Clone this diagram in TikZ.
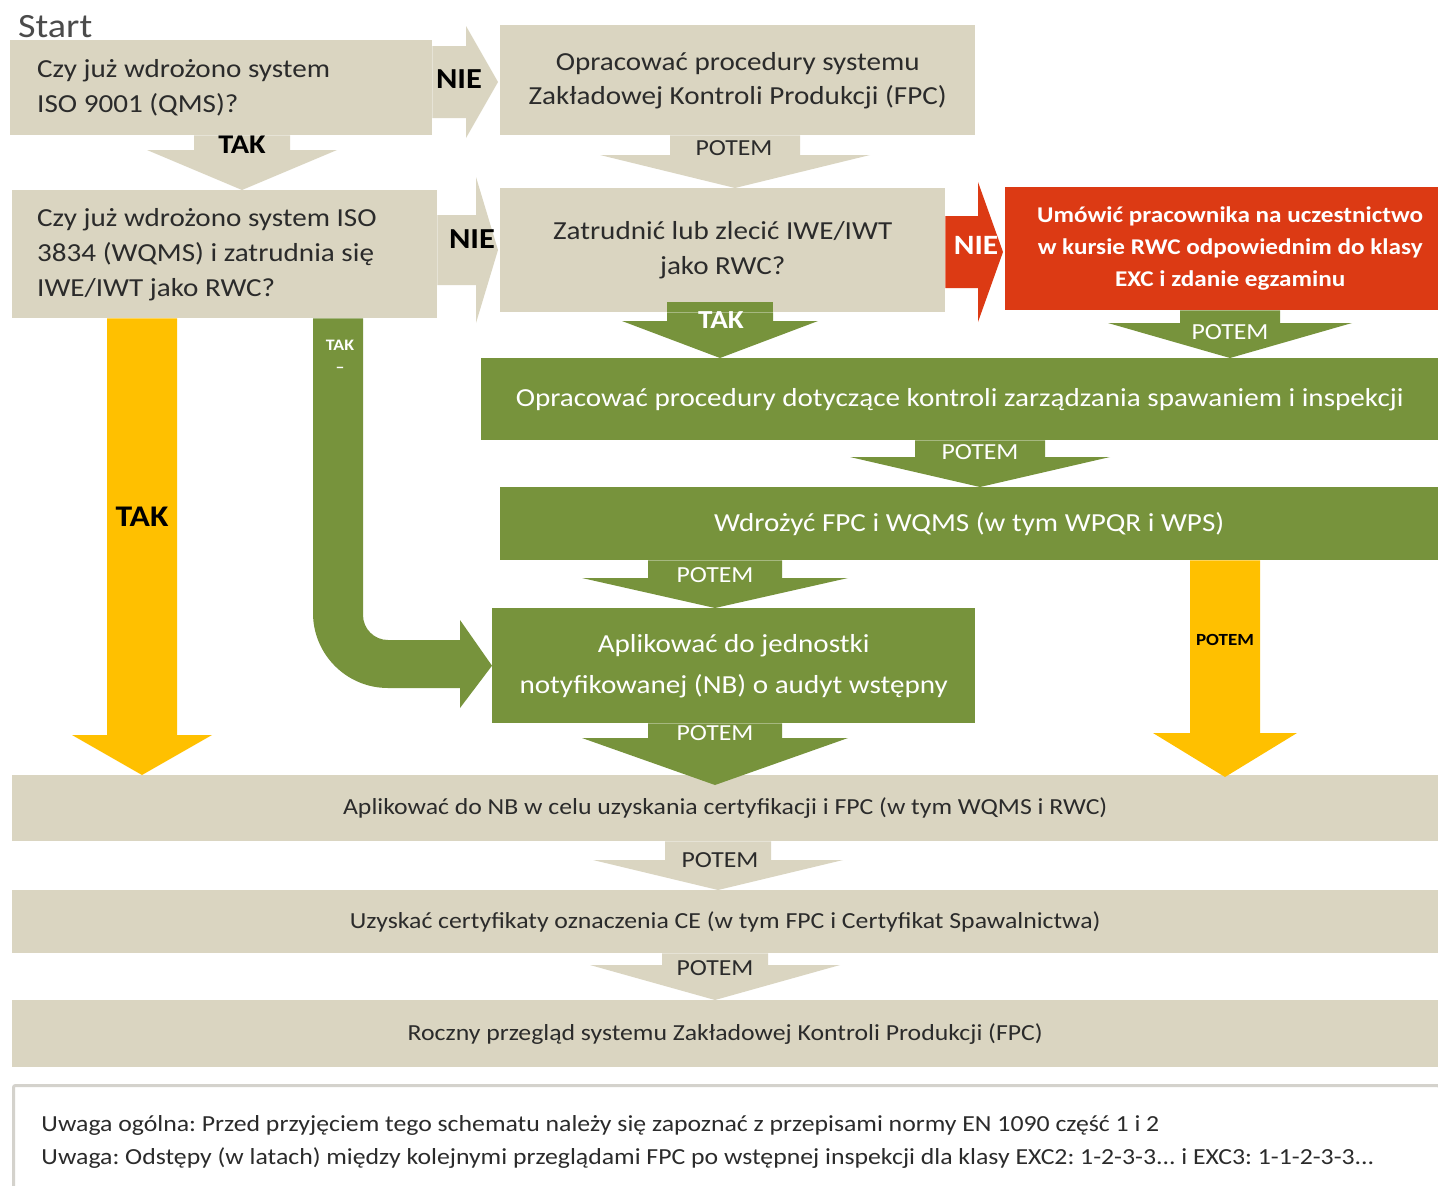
\documentclass[tikz,border=0pt]{standalone}
\usepackage{fontspec}
\setmainfont{Carlito}[FakeStretch=1.12]
\usetikzlibrary{calc}
\definecolor{beige}{HTML}{DAD5C1}
\definecolor{olive}{HTML}{77933C}
\definecolor{redc}{HTML}{DC3A14}
\definecolor{gold}{HTML}{FFC000}
\definecolor{txt}{HTML}{2B2B2B}
\definecolor{notegray}{HTML}{D4D2CC}
% down block arrow: color, from, to, xc, body half, head half, head length, tip offset
\newcommand\blkdown[8]{%
\fill[#1] (#4-#5,0 |- #2.south) -- (#4+#5,0 |- #2.south)
 -- ($(#4+#5,0 |- #3.north)+(0,#8-#7)$) -- ($(#4+#6,0 |- #3.north)+(0,#8-#7)$)
 -- ($(#4,0 |- #3.north)+(0,#8)$)
 -- ($(#4-#6,0 |- #3.north)+(0,#8-#7)$) -- ($(#4-#5,0 |- #3.north)+(0,#8-#7)$) -- cycle;}
% right block arrow: color, from, to, yc, body half, head half, head length, tip offset
\newcommand\blkright[8]{%
\fill[#1] (#2.east |- 0,#4-#5) -- ($(#3.west |- 0,#4-#5)+(#8-#7,0)$)
 -- ($(#3.west |- 0,#4-#6)+(#8-#7,0)$) -- ($(#3.west |- 0,#4)+(#8,0)$)
 -- ($(#3.west |- 0,#4+#6)+(#8-#7,0)$) -- ($(#3.west |- 0,#4+#5)+(#8-#7,0)$)
 -- (#2.east |- 0,#4+#5) -- cycle;}
\frenchspacing
\begin{document}
\begin{tikzpicture}[x=1pt,y=-1pt,
  box/.style={inner sep=0pt, anchor=north west, align=center, text=txt},
  f26/.style={font=\frenchspacing\fontsize{26}{35}\selectfont},
  f23/.style={font=\frenchspacing\fontsize{23}{30}\selectfont},
  lblk/.style={inner sep=0pt, text=black, font=\bfseries\fontsize{29}{29}\selectfont},
  lblw/.style={inner sep=0pt, text=white, font=\bfseries\fontsize{28}{28}\selectfont},
  potd/.style={inner sep=0pt, text=txt, font=\fontsize{23}{23}\selectfont},
  potw/.style={inner sep=0pt, text=white, font=\fontsize{23}{23}\selectfont}]
\useasboundingbox (0,0) rectangle (1438,1186);
\fill[white] (0,0) rectangle (1438,1186);

\node[inner sep=0pt, anchor=west, text=txt!85, font=\fontsize{34}{34}\selectfont] (start) at (18,27) {Start};

\node[box, fill=beige, minimum width=422, minimum height=95, text width=368, inner xsep=27pt, align=flush left, f26] (b1) at (10,40) {Czy już wdrożono system\\ISO 9001 (QMS)?};
\node[box, fill=beige, minimum width=475, minimum height=110, font=\fontsize{26}{34}\selectfont] (b2) at (500,25) {Opracować procedury systemu\\Zakładowej Kontroli Produkcji (FPC)};
\node[box, fill=beige, minimum width=425, minimum height=128, text width=375, inner xsep=25pt, align=flush left, f26] (b3) at (12,190) {Czy już wdrożono system ISO\\3834 (WQMS) i zatrudnia się\\IWE/IWT jako RWC?};
\node[box, fill=beige, minimum width=445, minimum height=124, f26] (b4) at (500,188) {Zatrudnić lub zlecić IWE/IWT\\jako RWC?};
\node[box, fill=redc, text=white, minimum width=450, minimum height=123, font=\bfseries\fontsize{22.5}{32}\selectfont] (red) at (1005,187) {Umówić pracownika na uczestnictwo\\w kursie RWC odpowiednim do klasy\\EXC i zdanie egzaminu};
\node[box, fill=olive, text=white, minimum width=957, minimum height=82, f26] (g1) at (481,358) {Opracować procedury dotyczące kontroli zarządzania spawaniem i inspekcji};
\node[box, fill=olive, text=white, minimum width=938, minimum height=73, f26] (g2) at (500,487) {Wdrożyć FPC i WQMS (w tym WPQR i WPS)};
\node[box, fill=olive, text=white, minimum width=483, minimum height=115, font=\fontsize{26}{41}\selectfont] (nb) at (492,608) {Aplikować do jednostki\\notyfikowanej (NB) o audyt wstępny};
\node[box, fill=beige, minimum width=1426, minimum height=66, f23] (ap) at (12,775) {Aplikować do NB w celu uzyskania certyfikacji i FPC (w tym WQMS i RWC)};
\node[box, fill=beige, minimum width=1426, minimum height=63, f23] (ce) at (12,890) {Uzyskać certyfikaty oznaczenia CE (w tym FPC i Certyfikat Spawalnictwa)};
\node[box, fill=beige, minimum width=1426, minimum height=67, f23] (fpc) at (12,1000) {Roczny przegląd systemu Zakładowej Kontroli Produkcji (FPC)};
\node[box, draw=notegray, line width=3pt, fill=white, rounded corners=2pt, minimum width=1426, minimum height=112, text width=1370, inner xsep=28pt, align=flush left, font=\frenchspacing\fontsize{23}{33}\selectfont] (note) at (12,1084) {Uwaga ogólna: Przed przyjęciem tego schematu należy się zapoznać z przepisami normy EN 1090 część 1 i 2\\Uwaga: Odstępy (w latach) między kolejnymi przeglądami FPC po wstępnej inspekcji dla klasy EXC2: 1-2-3-3... i EXC3: 1-1-2-3-3...};

% connectors
\blkright{beige}{b1}{b2}{82}{36}{56}{32}{-2}
\blkright{beige}{b3}{b4}{250}{35}{73}{22}{-2}
\blkright{redc}{b4}{red}{252}{36}{70}{25}{-2}
\blkdown{beige}{b1}{b3}{242}{48}{95}{40}{0}
\blkdown{beige}{b2}{b4}{735}{65}{135}{33}{0}
\fill[olive] ($(667,0 |- b4.south)+(0,-10)$) rectangle (773,0 |- b4.south);
\blkdown{olive}{b4}{g1}{720}{53}{98}{37}{0}
\blkdown{olive}{red}{g1}{1230}{50}{122}{35}{0}
\blkdown{olive}{g1}{g2}{980}{65}{130}{30}{0}
\blkdown{olive}{g2}{nb}{715}{67}{133}{30}{0}
\blkdown{olive}{nb}{ap}{715}{67}{133}{47}{10}
\blkdown{gold}{g2}{ap}{1225}{35}{72}{44}{2}
\blkdown{gold}{b3}{ap}{142}{35}{70}{40}{0}
\blkdown{beige}{ap}{ce}{718}{53}{125}{30}{0}
\blkdown{beige}{ce}{fpc}{715}{53}{125}{35}{0}
\fill[olive] (313,0 |- b3.south) -- (313,613) arc[start angle=180,end angle=90,radius=75]
  -- (460,688) -- (460,708) -- (nb.west) -- (460,620) -- (460,640) -- (388,640)
  arc[start angle=90,end angle=180,radius=25] -- (363,0 |- b3.south) -- cycle;

% labels
\node[lblk] (nie1) at (459,79) {NIE};
\node[lblk] (nie2) at (472,239) {NIE};
\node[lblk, font=\bfseries\fontsize{27}{27}\selectfont] (tak1) at (242,145) {TAK};
\node[potd] (p1) at (734,148) {POTEM};
\node[lblw] (nie3) at (976,245) {NIE};
\node[lblw, font=\bfseries\fontsize{26}{26}\selectfont] (tak2) at (721,320) {TAK};
\node[potw] (p2) at (1230,332) {POTEM};
\node[inner sep=0pt, text=white, align=center, font=\bfseries\fontsize{16}{22}\selectfont] (tak3) at (340,356) {TAK\\–};
\node[potw] (p3) at (980,452) {POTEM};
\node[potw] (p4) at (715,575) {POTEM};
\node[potw] (p5) at (715,733) {POTEM};
\node[inner sep=0pt, text=black, font=\bfseries\fontsize{17}{17}\selectfont] (p6) at (1225,640) {POTEM};
\node[inner sep=0pt, text=black, font=\bfseries\fontsize{30}{30}\selectfont] (tak4) at (142,517) {TAK};
\node[potd] (p7) at (720,860) {POTEM};
\node[potd] (p8) at (715,968) {POTEM};
\end{tikzpicture}
\end{document}
